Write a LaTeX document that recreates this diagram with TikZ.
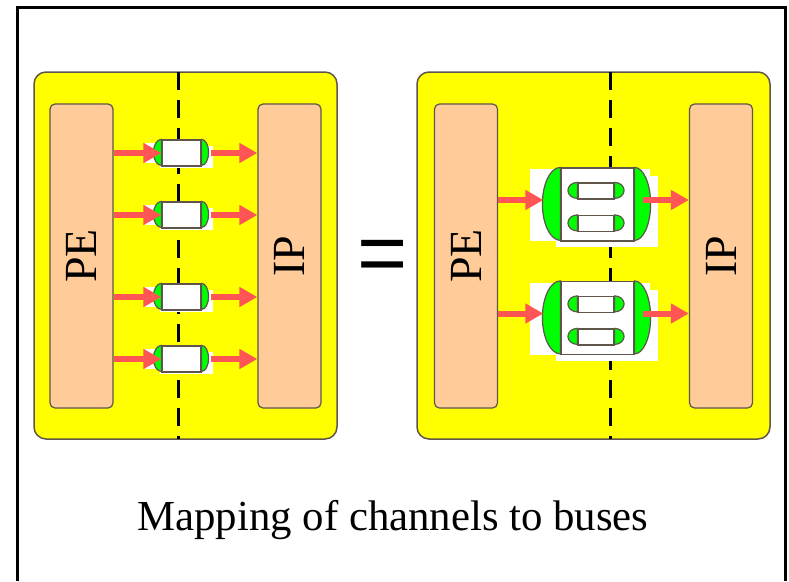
\documentclass[tikz,border=0pt]{standalone}
\usepackage{fontspec}
\setmainfont{Liberation Serif}
\newfontfamily\eqfont{Liberation Sans}
\usetikzlibrary{arrows.meta}
\definecolor{panelyellow}{RGB}{255,255,0}
\definecolor{blockpeach}{RGB}{255,204,153}
\definecolor{capgreen}{RGB}{0,255,0}
\definecolor{flowred}{RGB}{255,85,85}
\definecolor{edgegray}{RGB}{95,85,75}
\begin{document}
\begin{tikzpicture}[x=1pt,y=-1pt,line width=1.2pt]
\tikzset{panel/.style={draw=edgegray,fill=panelyellow,rounded corners=12pt,line width=1.5pt,inner sep=0pt},
  blk/.style={draw=edgegray,fill=blockpeach,rounded corners=5pt,minimum width=63,minimum height=304,inner sep=0pt,font=\fontsize{46}{46}\selectfont},
  chan/.style={draw=edgegray,fill=white,inner sep=0pt,minimum width=39,minimum height=26},
  bus/.style={draw=edgegray,fill=white,inner sep=0pt,minimum width=73,minimum height=73},
  subchan/.style={draw=edgegray,fill=white,inner sep=0pt,minimum width=36,minimum height=16},
  capline/.style={draw=edgegray,fill=capgreen},
  divider/.style={line width=3pt,dash pattern=on 18pt off 10pt},
  flow/.style={draw=flowred,line width=6pt,-{Triangle[length=18pt,width=19pt,fill=flowred]}},
  frame/.style={line width=3pt}}
\useasboundingbox (0,0) rectangle (789,581);
\draw[frame] (17,581) |- (785,7) -- (785,581);
\node[panel,minimum width=303,minimum height=367] (left) at (185.5,255.5) {};
\node[panel,minimum width=353,minimum height=367] (right) at (593.5,255.5) {};
\node[blk] (pe1) at (81.5,256) {\rotatebox{90}{PE}};
\node[blk] (ip1) at (289.5,256) {\rotatebox{90}{IP}};
\node[blk] (pe2) at (466,256) {\rotatebox{90}{PE}};
\node[blk] (ip2) at (721,256) {\rotatebox{90}{IP}};
\draw[divider] (178,72) -- (178,439);
\draw[divider] (610,72) -- (610,439);
\node[font=\eqfont\fontsize{86}{86}\selectfont,inner sep=0pt] (eq) at (383,261) {=};
\foreach \n/\y in {1/153,2/215,3/297,4/359}{
  \fill[white] (145,\y-10) rectangle (205,\y+10);
  \fill[white] (160,\y-7) rectangle (213,\y+15);
  \node[chan] (c\n) at (181.5,\y) {};
  \draw[capline] (c\n.north west) arc[start angle=90,end angle=270,x radius=8pt,y radius=13pt] -- cycle;
  \draw[capline] (c\n.north east) arc[start angle=90,end angle=-90,x radius=7pt,y radius=13pt] -- cycle;
  \draw[flow] (c\n -| pe1.east) -- (c\n.west);
  \draw[flow] ([xshift=9pt]c\n.east) -- (c\n -| ip1.west);
}
\foreach \n/\y in {1/204.5,2/318}{
  \fill[white] (530,\y-35.5) rectangle (650,\y+36.5);
  \fill[white] (556,\y-28.5) rectangle (658,\y+42.5);
  \node[bus] (b\n) at (597.5,\y) {};
  \draw[capline] (b\n.north west) arc[start angle=90,end angle=270,x radius=18pt,y radius=36.5pt] -- cycle;
  \draw[capline] (b\n.north east) arc[start angle=90,end angle=-90,x radius=16pt,y radius=36.5pt] -- cycle;
  \node[subchan] (b\n t) at ([xshift=-1.5pt,yshift=13.5pt]b\n.center) {};
  \node[subchan] (b\n b) at ([xshift=-1.5pt,yshift=-19pt]b\n.center) {};
  \foreach \s in {t,b}{
    \draw[capline] (b\n\s.north west) arc[start angle=90,end angle=270,x radius=9.5pt,y radius=8pt] -- cycle;
    \draw[capline] (b\n\s.north east) arc[start angle=90,end angle=-90,x radius=9.5pt,y radius=8pt] -- cycle;
  }
  \coordinate (b\n in) at ([yshift=4.5pt]b\n.west);
  \coordinate (b\n out) at ([yshift=4.5pt]b\n.east);
  \draw[flow] (b\n in -| pe2.east) -- ([xshift=-17pt]b\n in);
  \draw[flow] ([xshift=8pt]b\n out) -- (b\n out -| ip2.west);
}
\node[anchor=base,font=\fontsize{42.8}{42.8}\selectfont,inner sep=0pt] (cap) at (393,530) {Mapping of channels to buses};
\end{tikzpicture}
\end{document}
